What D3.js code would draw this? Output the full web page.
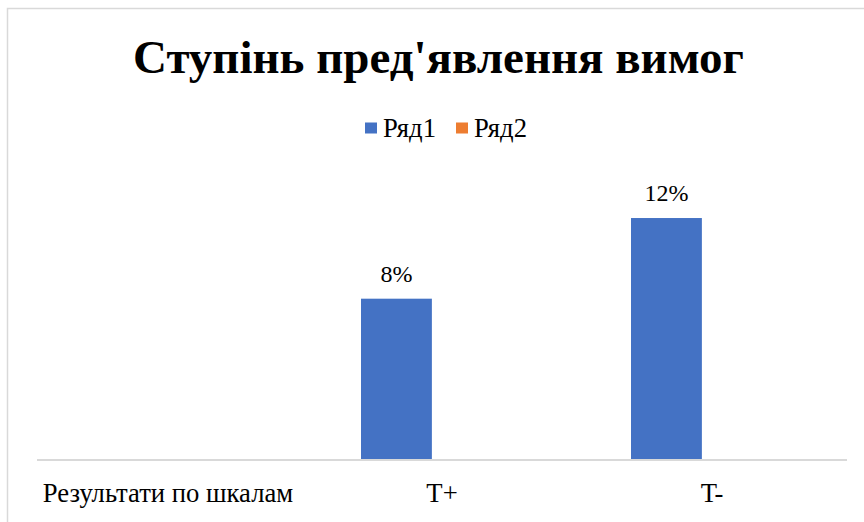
<!DOCTYPE html>
<html>
<head>
<meta charset="utf-8">
<script src="https://cdn.jsdelivr.net/npm/d3@7"></script>
<style>
  html, body { margin: 0; padding: 0; background: #fff; }
  svg { display: block; }
</style>
</head>
<body>
<svg id="chart" width="864" height="522" font-family="Liberation Serif"></svg>
<script>
// Chart data
const title = "Ступінь пред'явлення вимог";
const categories = ["Результати по шкалам", "T+", "T-"];
const seriesNames = ["Ряд1", "Ряд2"];
const series1 = [null, 0.08, 0.12];
const series2 = [null, null, null];
const seriesColors = ["#4472C4", "#ED7D31"];

const FONT = "Liberation Serif";
const svg = d3.select("#chart");

// outer chart frame
svg.append("rect")
  .attr("x", 7.5).attr("y", 8.5)
  .attr("width", 880).attr("height", 530)
  .attr("fill", "#fff")
  .attr("stroke", "#d9d9d9").attr("stroke-width", 1.5);

// title
svg.append("text")
  .attr("x", 438.5).attr("y", 73)
  .attr("text-anchor", "middle")
  .attr("font-family", FONT)
  .attr("font-size", 47).attr("font-weight", "bold")
  .text(title);

// legend
const legend = svg.append("g");
const legendX = [365, 456];
seriesNames.forEach((name, i) => {
  const g = legend.append("g").attr("transform", `translate(${legendX[i]},0)`);
  g.append("rect").attr("x", 0).attr("y", 122.5).attr("width", 12).attr("height", 11)
    .attr("fill", seriesColors[i]);
  g.append("text").attr("x", 18).attr("y", 136.5)
    .attr("font-family", FONT)
    .attr("font-size", 26.67).text(name);
});

// scales
const plotLeft = 37, plotRight = 847, baseY = 460;
const x0 = d3.scaleBand().domain(categories).range([plotLeft, plotRight]).padding(0);
const bw = x0.bandwidth();
const x1 = d3.scaleBand().domain(seriesNames)
  .range([bw * 0.2, bw * 0.725]).padding(0);
const y = d3.scaleLinear().domain([0, 0.14]).range([baseY, baseY - 282.3]);

const pct = d3.format(".0%");

// bars + value labels
const allSeries = [series1, series2];
allSeries.forEach((vals, si) => {
  const data = categories.map((c, i) => ({ c, v: vals[i] })).filter(d => d.v != null);
  const g = svg.append("g");
  g.selectAll("rect").data(data).join("rect")
    .attr("x", d => x0(d.c) + x1(seriesNames[si]))
    .attr("y", d => y(d.v))
    .attr("width", x1.bandwidth())
    .attr("height", d => y(0) - y(d.v))
    .attr("fill", seriesColors[si]);
  g.selectAll("text").data(data).join("text")
    .attr("x", d => x0(d.c) + x1(seriesNames[si]) + x1.bandwidth() / 2)
    .attr("y", d => y(d.v) - 17)
    .attr("text-anchor", "middle")
    .attr("font-family", FONT)
    .attr("font-size", 24)
    .text(d => pct(d.v));
});

// category axis
const axis = svg.append("g").attr("transform", `translate(0,${baseY})`)
  .call(d3.axisBottom(x0).tickSize(0).tickPadding(0));
axis.attr("font-family", FONT).attr("font-size", 26.67);
axis.select(".domain").attr("stroke", "#d9d9d9").attr("stroke-width", 2)
  .attr("d", `M${plotLeft},0H${plotRight}`);
axis.selectAll(".tick text")
  .attr("dy", null).attr("y", 42)
  .attr("x", (d, i) => (i === 0 ? -4 : 0))
  .attr("font-family", FONT)
  .attr("font-size", 26.67).attr("fill", "#000");
</script>
</body>
</html>
